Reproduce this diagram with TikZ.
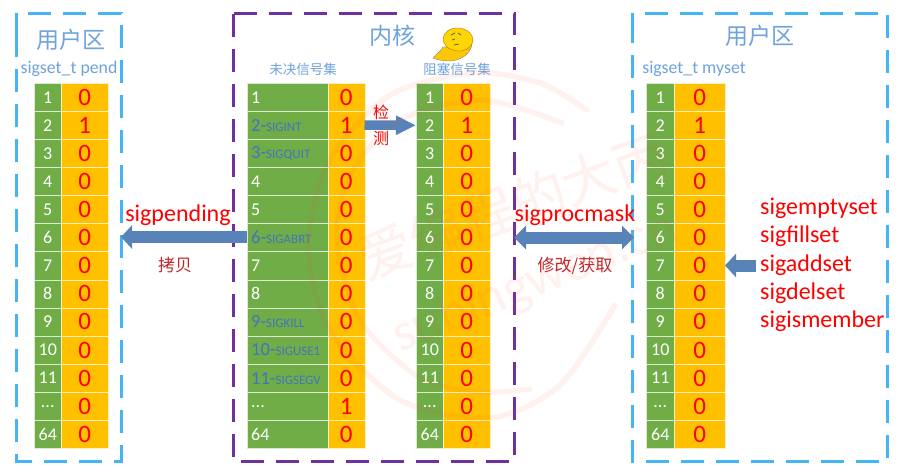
\documentclass[tikz,border=0pt]{standalone}
\usepackage{fontspec}
\setmainfont{Carlito}
\newfontfamily\cjk{Noto Sans CJK SC}
\usetikzlibrary{arrows.meta,shapes.geometric}
\definecolor{grn}{HTML}{70AD47}
\definecolor{org}{HTML}{FFC000}
\definecolor{sky}{HTML}{45B4F5}
\definecolor{pur}{HTML}{7030A0}
\definecolor{ttl}{HTML}{6FA3DB}
\definecolor{sigc}{HTML}{4472C4}
\definecolor{arr}{HTML}{5783B8}
\definecolor{wm}{HTML}{F4502A}
\definecolor{dkred}{HTML}{C0282A}
\tikzset{
  x=1pt,y=-1pt,
  frameA/.style={draw=sky,line width=3pt,dash pattern=on 23pt off 12pt},
  frameB/.style={draw=pur,line width=3pt,dash pattern=on 23pt off 12pt},
  cellg/.style={fill=grn,draw=white!75!grn,line width=.5pt,inner sep=0pt,minimum height=28.08pt,anchor=north west},
  cello/.style={fill=org,draw=white!75!org,line width=.5pt,inner sep=0pt,minimum height=28.08pt,anchor=north west,text=red,font=\fontsize{25}{25}\selectfont},
  num/.style={text=white,font=\fontsize{18}{20}\selectfont},
  ttlb/.style={text=ttl,inner sep=0pt,font=\cjk\fontsize{23}{23}\selectfont},
  ttls/.style={text=ttl,inner sep=0pt,font=\fontsize{17.8}{19}\selectfont},
  ttlc/.style={text=ttl,inner sep=0pt,font=\cjk\fontsize{13.5}{14}\selectfont},
  redl/.style={text=red,inner sep=0pt,anchor=west,font=\fontsize{24}{26}\selectfont},
  darkl/.style={text=dkred,inner sep=0pt,font=\cjk\fontsize{17}{18}\selectfont},
  blockar/.style={draw=arr,line width=12pt,arrows={-{Triangle[length=11pt,width=23pt]}}},
  blocksm/.style={draw=arr,line width=9.5pt,arrows={-{Triangle[length=20pt,width=18pt]}}},
  blockdb/.style={draw=arr,line width=12pt,arrows={{Triangle[length=12pt,width=23pt]}-{Triangle[length=12pt,width=23pt]}}},
  wmarc/.style={draw=wm,opacity=.08,line cap=round},
  wmtxt/.style={text=wm,opacity=.08,inner sep=0pt},
}
\newcommand{\sg}[2]{\textcolor{sigc}{\fontsize{18.5}{20}\selectfont #1-\fontsize{13}{15}\selectfont #2}}
\newcommand{\ddd}{...}
\begin{document}
\begin{tikzpicture}
\useasboundingbox (0,0) rectangle (904,472);
\fill[white] (0,0) rectangle (904,472);
% frames
\draw[frameA] (16,36) -- (16,13) -- (121,13) -- (121,461) -- (16,461) -- cycle;
\draw[frameB] (233.5,13) -- (514.5,13) -- (514.5,461.5) -- (233.5,461.5) -- cycle;
\draw[frameA] (632.5,36) -- (632.5,13) -- (887.5,13) -- (887.5,461.5) -- (632.5,461.5) -- cycle;
% tables
\foreach \name/\xa/\wg/\wo/\vals in {ta/34/27/47/{0,1,0,0,0,0,0,0,0,0,0,0,0},tb/246.5/81/37/{0,1,0,0,0,0,0,0,0,0,0,1,0},tc/416/27/47/{0,1,0,0,0,0,0,0,0,0,0,0,0},td/646/28/51/{0,1,0,0,0,0,0,0,0,0,0,0,0}}{
  \foreach \v [count=\i] in \vals {
    \pgfmathsetmacro{\yy}{83+(\i-1)*28.08}
    \node[cellg,minimum width=\wg pt] (\name g\i) at (\xa,\yy) {};
    \node[cello,minimum width=\wo pt] (\name o\i) at (\xa+\wg,\yy) {\v};
  }
}
% row numbers of narrow tables
\foreach \name in {ta,tc,td}{
  \foreach \t [count=\i] in {1,2,3,4,5,6,7,8,9,10,11,\ddd,64}
    \node[num] (\name n\i) at (\name g\i) {\t};
}
% row labels of the kernel table
\foreach \i/\t in {1/1,4/4,5/5,7/7,8/8,12/\ddd,13/64}
  \node[num,anchor=west,inner sep=0pt] (tbn\i) at ([xshift=4.5pt]tbg\i.west) {\t};
\foreach \i/\a/\b in {2/2/SIGINT,3/3/SIGQUIT,6/6/SIGABRT,9/9/SIGKILL,10/10/SIGUSE1,11/11/SIGSEGV}
  \node[anchor=west,inner sep=0pt] (tbn\i) at ([xshift=4.5pt]tbg\i.west) {\sg{\a}{\b}};
% titles
\node[ttlb] (t1) at (70.5,40) {用户区};
\node[ttls] (s1) at (69,69) {sigset\_t pend};
\node[ttlb] (t2) at (392.5,36) {内核};
\node[ttlc] (s2) at (303,69) {未决信号集};
\node[ttlc] (s3) at (457,69) {阻塞信号集};
\node[ttlb] (t3) at (760,36) {用户区};
\node[ttls] (s4) at (694,69) {sigset\_t myset};
% chick
\fill[yellow!60!orange,draw=black!55,line width=.3pt] (433,58) .. controls (437,53) and (440,52) .. (443,47) .. controls (450,47) and (464,47) .. (472,44) .. controls (471,54) and (460,61) .. (449,61) .. controls (443,61) and (438,60) .. (433,58) -- cycle;
\node[fill=yellow!75!orange,draw=orange!70!black,line width=.3pt,ellipse,minimum width=30pt,minimum height=23pt,inner sep=0pt,rotate=-5] (chick) at (458,39.5) {};
\draw[black!65,line width=.7pt] (451,35) -- (455,33) (458,33) -- (461,35) (452,40) -- (455,39) (454,45) -- (459,44);
% connectors
\coordinate (c1) at (121,237);
\coordinate (c2) at (514,237.5);
\coordinate (c3) at (634,237.5);
\coordinate (c4) at (725,265.5);
\coordinate (c5) at (756,265.5);
\coordinate (c6) at (364.5,125);
\coordinate (c7) at (246.5,237);
\draw[blockar] (c7) -- (c1);
\draw[blocksm] (c6) -- (tcg2.west);
\draw[blockdb] (c2) -- (c3);
\draw[blockar] (c5) -- (c4);
% labels
\node[redl,anchor=center] (l1) at (178,215) {sigpending};
\node[darkl] (l2) at (175,265) {拷贝};
\node[redl,anchor=center] (l3) at (575,215) {sigprocmask};
\node[darkl] (l4) at (575,266) {修改/获取};
\node[text=red,inner sep=0pt,align=center,font=\cjk\fontsize{16}{26}\selectfont] (l5) at (381,125) {检\\测};
\foreach \i/\t/\yy in {1/sigemptyset/208,2/sigfillset/236,3/sigaddset/265,4/sigdelset/293,5/sigismember/321}
  \node[redl] (f\i) at (760,\yy) {\t};
% watermark
\draw[wmarc,line width=5.5pt] plot[smooth] coordinates {(587,110) (540,83) (473,73) (390,95) (330,160) (308,245) (330,330) (400,400) (490,418) (560,385) (615,305)};
\draw[wmarc,line width=5pt] plot[smooth] coordinates {(562,123) (483,100) (400,120) (350,175) (337,240) (360,320) (420,378) (480,392) (530,389)};
\node[wmtxt,rotate=20,font=\cjk\fontsize{54}{54}\selectfont] (w1) at (513,206) {爱编程的大丙};
\node[wmtxt,rotate=22,font=\fontsize{54}{54}\selectfont] (w2) at (535,283) {subingwen.cn};
\end{tikzpicture}
\end{document}
